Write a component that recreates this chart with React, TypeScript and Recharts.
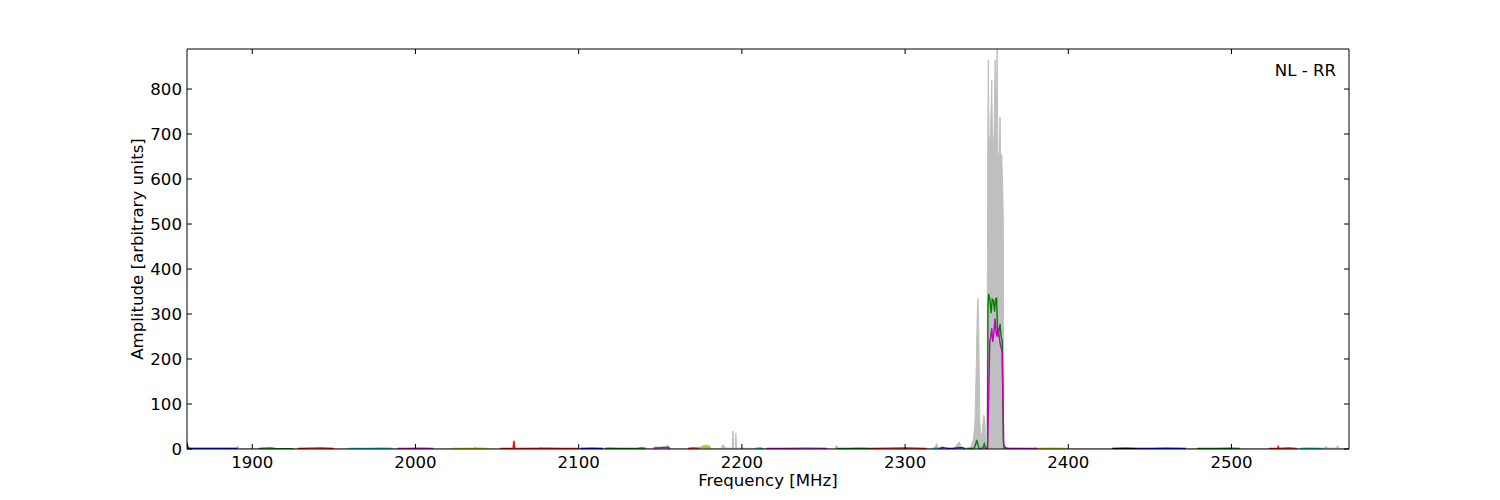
import { Area, ComposedChart, Line, XAxis, YAxis } from "recharts";

// Spectrum of one baseline, RR polarisation. Gray = full band, coloured
// pieces = the individual sub-bands (matplotlib classic colour cycle).
const xTicks = [1900, 2000, 2100, 2200, 2300, 2400, 2500];
const yTicks = [0, 100, 200, 300, 400, 500, 600, 700, 800];

const gray: [number, number][] = [
  [1860, 2], [1890, 2], [1891.2, 6], [1892, 1], [1950, 1], [2036, 1], [2036.6, 5], [2037.5, 1],
  [2076, 1], [2077, 4], [2078, 1], [2145, 1], [2147, 5], [2150, 4], [2153, 6], [2155, 8], [2156, 1],
  [2174, 1], [2176, 7], [2178, 9], [2180, 8], [2181, 1], [2187, 1], [2188.6, 10], [2190, 2],
  [2194, 2], [2194.5, 40], [2195, 2], [2196, 2], [2196.3, 35], [2196.8, 2], [2210, 1], [2211, 4],
  [2212, 1], [2257, 1], [2258, 8], [2259, 1], [2318, 1], [2319.4, 12], [2320, 2], [2322, 5],
  [2324, 4], [2325, 1], [2330, 1], [2333.2, 16], [2334, 8], [2335, 1], [2340, 2], [2341.8, 20],
  [2342.8, 60], [2343.6, 180], [2344.2, 300], [2344.7, 335], [2345.2, 250], [2345.8, 60],
  [2346.5, 20], [2347.3, 40], [2348.2, 75], [2348.8, 70], [2349.4, 10], [2350.2, 5],
  [2350.6, 650], [2351, 864], [2351.4, 680], [2352.3, 700], [2353.1, 820], [2353.6, 660],
  [2354.5, 700], [2355.2, 865], [2355.7, 680], [2356.4, 890], [2356.9, 640], [2357.7, 660],
  [2358.2, 738], [2358.6, 620], [2359.2, 655], [2359.7, 600], [2360.2, 500], [2360.5, 5],
  [2362, 2], [2379, 1], [2379.6, 4], [2380.2, 1], [2556, 1], [2558, 6], [2559, 2], [2564, 2],
  [2565, 7], [2566, 1], [2572, 1],
];

const blue1: [number, number][] = [[1860, 14], [1860.6, 3], [1862, 1.5], [1870, 1], [1880, 1.5], [1891, 1.2]];
const green1: [number, number][] = [[1904, 1], [1907, 2], [1911, 2.5], [1914, 1.5], [1925, 0.8]];
const red1: [number, number][] = [[1928, 1], [1935, 2], [1942, 2.2], [1950, 1.5]];
const cyan1: [number, number][] = [[1959, 1], [1970, 1.2], [1980, 1.5], [1986, 1]];
const magenta1: [number, number][] = [[1989, 1], [1995, 1.5], [2003, 2], [2011, 1.2]];
const yellow1: [number, number][] = [[2023, 1], [2030, 1.5], [2038, 2], [2044, 1]];
const red2: [number, number][] = [[2052, 1], [2059.8, 1.5], [2060.3, 18], [2060.8, 2], [2070, 1.5], [2080, 2], [2090, 1.5], [2100, 1]];
const blue2: [number, number][] = [[2101, 1], [2108, 1.5], [2115, 1]];
const green2: [number, number][] = [[2116, 1], [2119, 2], [2125, 1], [2136, 1], [2138, 2.5], [2141, 2]];
const magenta2: [number, number][] = [[2146, 2], [2150, 3], [2155, 3.5], [2156, 1]];
const red3: [number, number][] = [[2167, 1], [2170, 2.5], [2174, 2]];
const yellow2: [number, number][] = [[2174, 3], [2177, 5], [2180, 4], [2181, 1]];
const cyan2: [number, number][] = [[2208, 1], [2211, 2], [2213, 1]];
const magenta3: [number, number][] = [[2215, 1], [2225, 1.5], [2240, 2], [2252, 1.5]];
const green3: [number, number][] = [[2258, 1], [2265, 1.5], [2272, 2], [2279, 1.5]];
const red4: [number, number][] = [[2279, 1], [2290, 2], [2300, 2.5], [2313, 1.5]];
const cyan3: [number, number][] = [[2317, 1], [2319, 2.5], [2321, 1]];
const blue3: [number, number][] = [[2321, 1], [2323, 3], [2325, 2], [2327, 1], [2329, 1], [2332, 2.5], [2335, 3], [2337, 1]];
const yellow3: [number, number][] = [[2381, 1], [2390, 1.5], [2399, 1]];
const black1: [number, number][] = [[2427, 1], [2435, 1.5], [2442, 1]];
const blue4: [number, number][] = [[2442, 1], [2450, 1.5], [2460, 2], [2472, 1]];
const green4: [number, number][] = [[2479, 1], [2490, 1.5], [2500, 2], [2505, 1]];
const red5: [number, number][] = [[2523, 1], [2528.3, 1], [2528.6, 5], [2529, 1.5], [2535, 2.5], [2540, 1.5]];
const cyan4: [number, number][] = [[2542, 1], [2548, 2], [2556, 1.5]];

const greenPeak: [number, number][] = [
  [2338, 1], [2341.5, 1], [2342.5, 3], [2343.4, 12], [2343.9, 20], [2344.5, 12], [2345.2, 2],
  [2346, 1], [2347.8, 3], [2348.5, 11], [2349.1, 3], [2350.5, 2], [2350.8, 320], [2351.2, 345],
  [2352, 330], [2352.7, 302], [2353.4, 333], [2354.1, 330], [2354.8, 305], [2355.5, 334],
  [2356.1, 335], [2356.7, 250], [2357.4, 260], [2358.2, 278], [2358.8, 250], [2359.5, 240],
  [2360.2, 20], [2360.6, 3], [2362, 1],
];
const magentaPeak: [number, number][] = [
  [2349, 1], [2350.5, 2], [2350.9, 60], [2351.3, 130], [2351.9, 240], [2352.5, 250],
  [2353.1, 268], [2353.7, 238], [2354.4, 258], [2355.1, 290], [2355.7, 262], [2356.3, 250],
  [2356.9, 270], [2357.5, 255], [2358.2, 235], [2358.9, 225], [2359.5, 215], [2360, 100],
  [2360.4, 10], [2361.5, 3], [2363, 1.5], [2370, 1], [2381, 1],
];

const B = "#0000ff", G = "#008000", R = "#ff0000", C = "#00bfbf", M = "#bf00bf", Y = "#bfbf00", K = "#000000";

const segments = [
  { d: blue1, c: B }, { d: green1, c: G }, { d: red1, c: R }, { d: cyan1, c: C },
  { d: magenta1, c: M }, { d: yellow1, c: Y }, { d: red2, c: R }, { d: blue2, c: B },
  { d: green2, c: G }, { d: magenta2, c: M }, { d: red3, c: R }, { d: yellow2, c: Y },
  { d: cyan2, c: C }, { d: magenta3, c: M }, { d: green3, c: G }, { d: red4, c: R },
  { d: cyan3, c: C }, { d: blue3, c: B }, { d: yellow3, c: Y }, { d: black1, c: K },
  { d: blue4, c: B }, { d: green4, c: G }, { d: red5, c: R }, { d: cyan4, c: C },
  { d: greenPeak, c: G }, { d: magentaPeak, c: M },
];

const FONT = "DejaVu Sans";
const FS = 16.6;

const rows = (pts: [number, number][]) => pts.map(([f, v]) => ({ f, v }));

function BottomTick({ x, y, payload }: any) {
  return (
    <g>
      <line x1={x} y1={y} x2={x} y2={y - 5} stroke="#000" />
      <text x={x} y={y + 18.5} textAnchor="middle" fontSize={FS} fontFamily={FONT} fill="#000">
        {payload.value}
      </text>
    </g>
  );
}
function TopTick({ x, y }: any) {
  return <line x1={x} y1={y} x2={x} y2={y + 5} stroke="#000" />;
}
function LeftTick({ x, y, payload }: any) {
  return (
    <g>
      <line x1={x} y1={y} x2={x + 5} y2={y} stroke="#000" />
      <text x={x - 5} y={y + 6} textAnchor="end" fontSize={FS} fontFamily={FONT} fill="#000">
        {payload.value}
      </text>
    </g>
  );
}
function RightTick({ x, y }: any) {
  return <line x1={x} y1={y} x2={x - 5} y2={y} stroke="#000" />;
}

export default function App() {
  return (
    <div style={{ position: "relative", width: 1500, height: 500, background: "#fff" }}>
      <style>{"body{margin:0}"}</style>
      <ComposedChart width={1500} height={500} margin={{ top: 48, right: 150, bottom: 21, left: 127 }}>
        <XAxis
          dataKey="f" type="number" domain={[1860, 2572]} ticks={xTicks} allowDataOverflow
          interval={0} tickSize={0} tickMargin={0} height={30} stroke="#000" tick={BottomTick}
          tickLine={false}
        />
        <XAxis
          xAxisId="top" orientation="top" dataKey="f" type="number" domain={[1860, 2572]}
          ticks={xTicks} allowDataOverflow interval={0} tickSize={0} tickMargin={0} height={1}
          stroke="#000" tick={TopTick} tickLine={false}
        />
        <YAxis
          type="number" domain={[0, 889]} ticks={yTicks} allowDataOverflow interval={0}
          tickSize={0} tickMargin={0} width={60} stroke="#000" tick={LeftTick} tickLine={false}
        />
        <YAxis
          yAxisId="right" orientation="right" type="number" domain={[0, 889]} ticks={yTicks}
          allowDataOverflow interval={0} tickSize={0} tickMargin={0} width={1} stroke="#000"
          tick={RightTick} tickLine={false}
        />
        <Area
          data={rows(gray)} dataKey="v" type="linear" stroke="#bfbfbf" strokeWidth={1}
          fill="#bfbfbf" fillOpacity={1} isAnimationActive={false} dot={false} activeDot={false}
        />
        {segments.map((s, i) => (
          <Line
            key={i} data={rows(s.d)} dataKey="v" type="linear" stroke={s.c} strokeWidth={1.4}
            dot={false} activeDot={false} isAnimationActive={false}
          />
        ))}
      </ComposedChart>
      <svg width={1500} height={500} style={{ position: "absolute", left: 0, top: 0, pointerEvents: "none" }}>
        <text x={768} y={486} textAnchor="middle" fontSize={FS} fontFamily={FONT} fill="#000">
          Frequency [MHz]
        </text>
        <text
          x={0} y={0} transform="translate(143,249) rotate(-90)" textAnchor="middle"
          fontSize={FS} fontFamily={FONT} fill="#000"
        >
          Amplitude [arbitrary units]
        </text>
        <text x={1336} y={76} textAnchor="end" fontSize={FS} fontFamily={FONT} fill="#000">
          NL - RR
        </text>
      </svg>
    </div>
  );
}
